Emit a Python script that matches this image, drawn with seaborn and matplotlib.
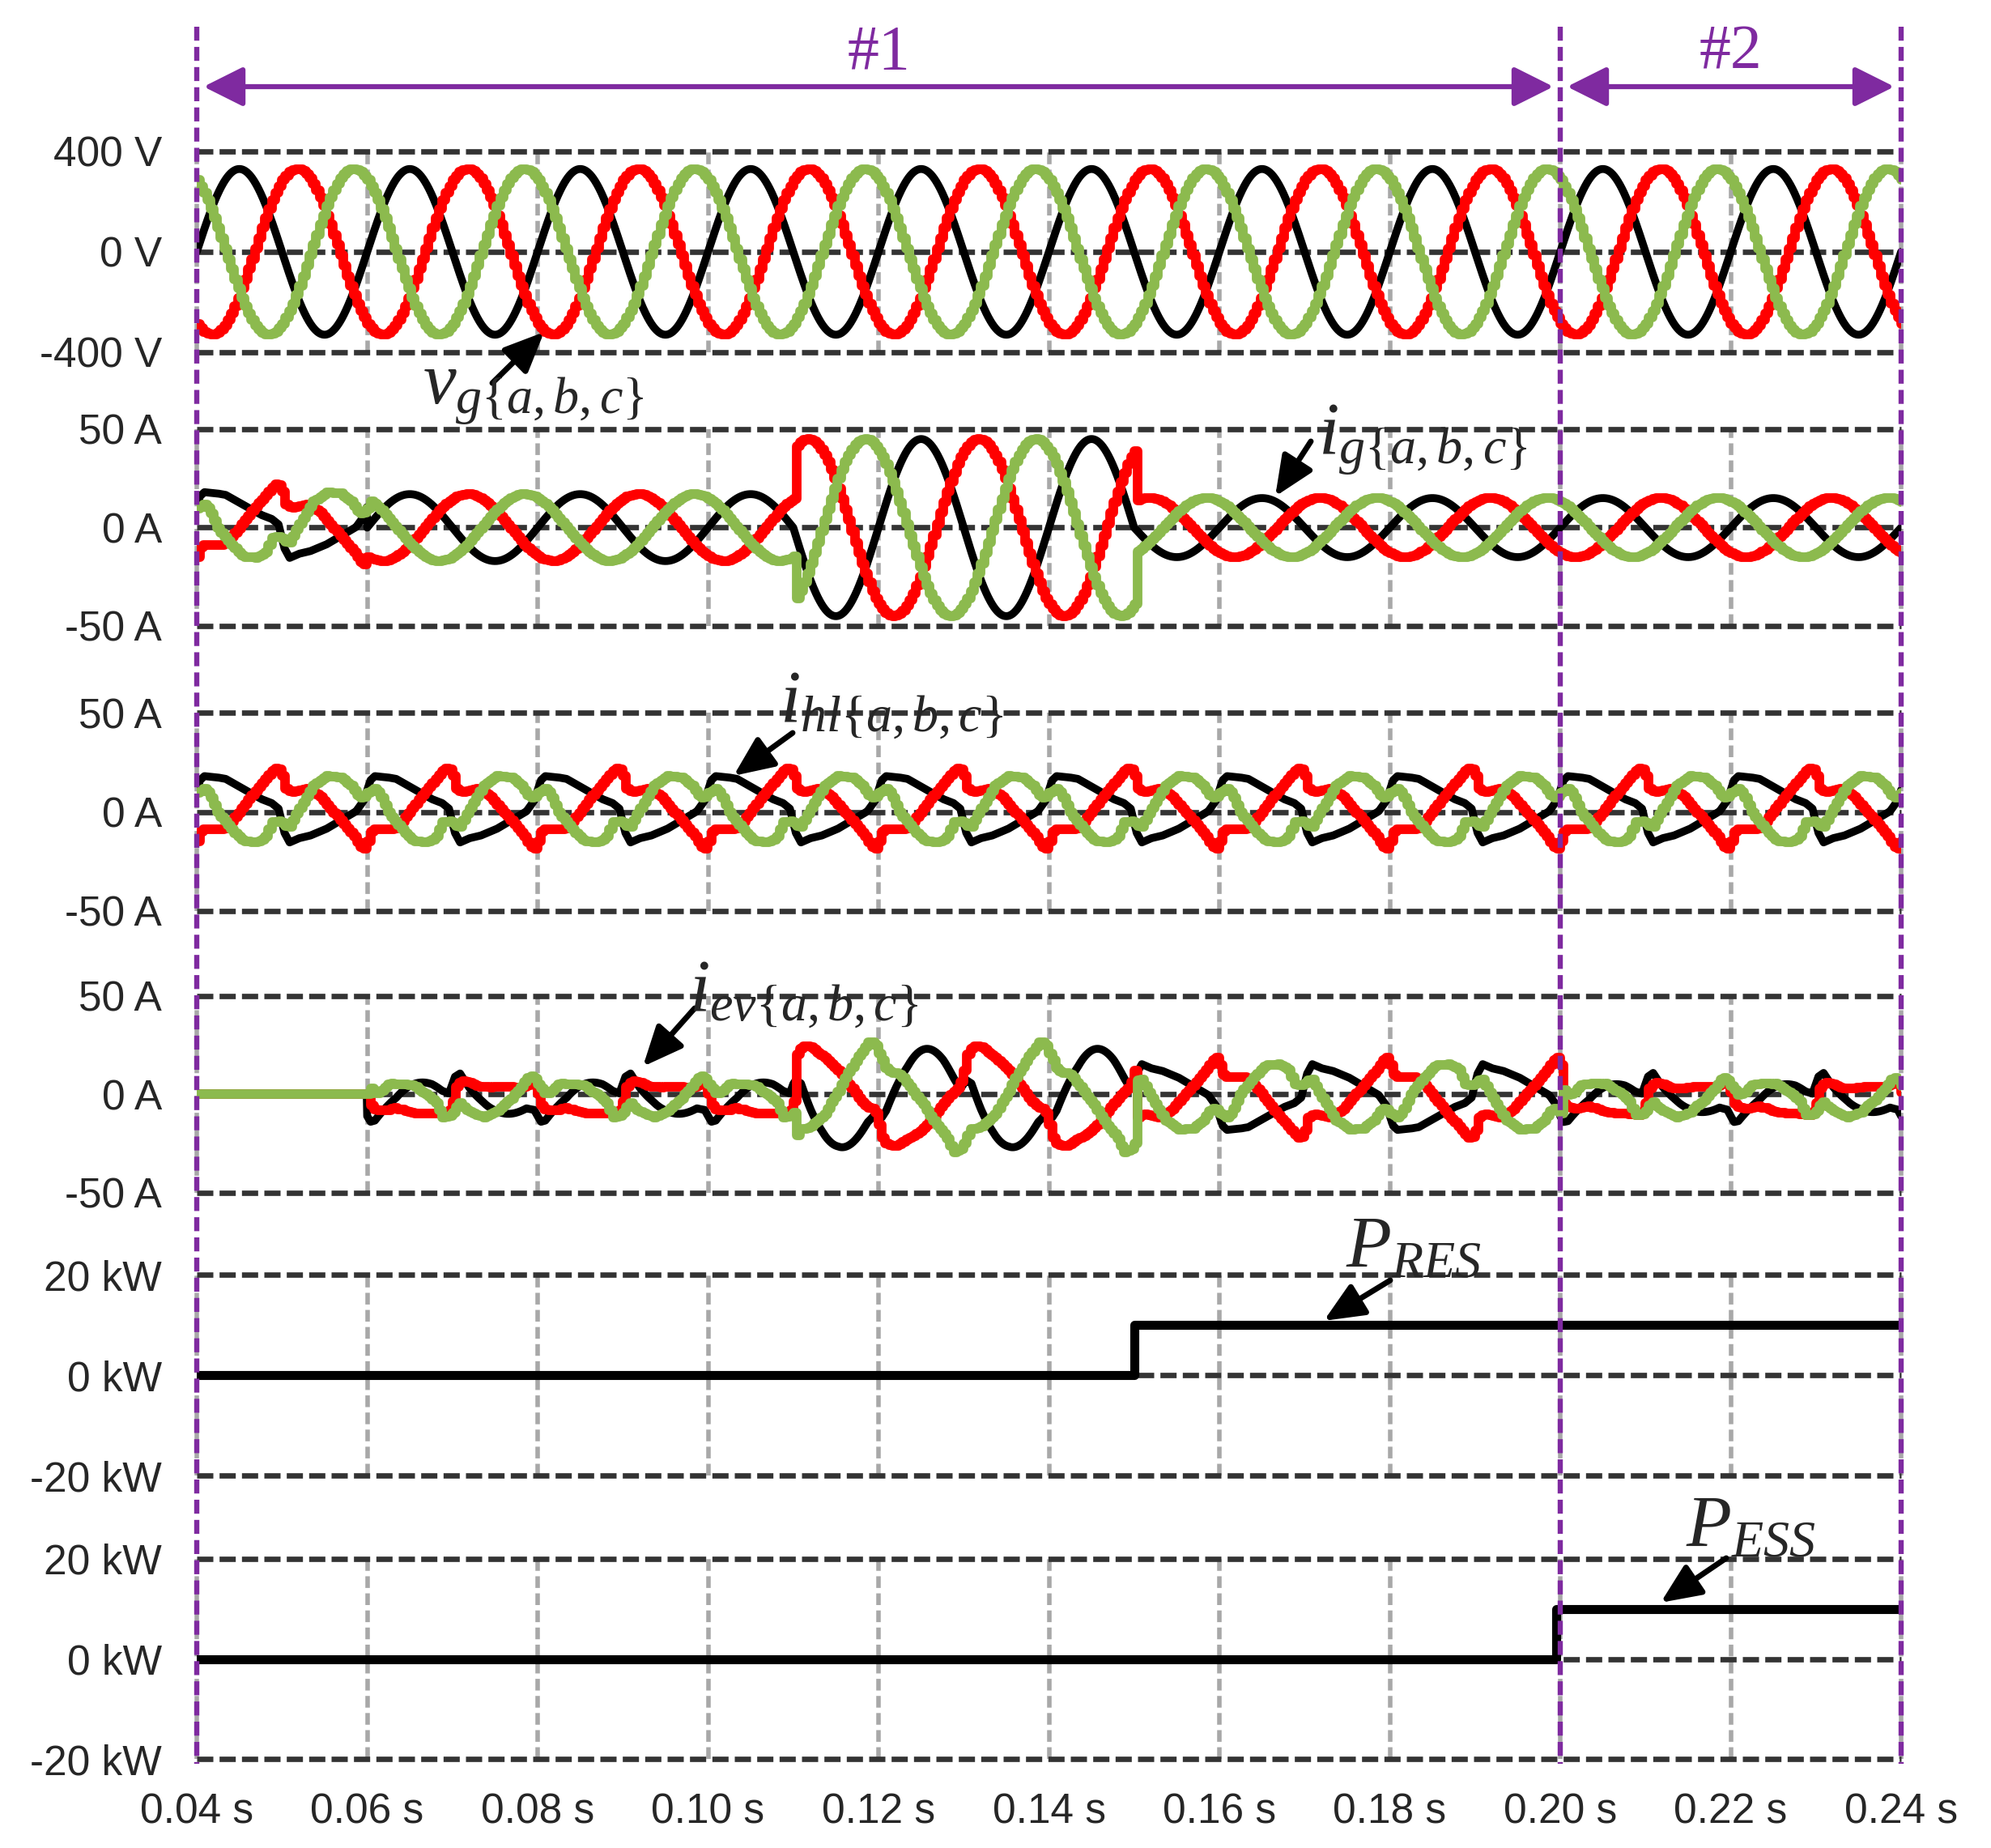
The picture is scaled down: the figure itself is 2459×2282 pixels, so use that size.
import numpy as np
import matplotlib
matplotlib.use('Agg')
import matplotlib.pyplot as plt
import matplotlib.transforms as mtransforms
from matplotlib.lines import Line2D
from matplotlib import font_manager
import seaborn as sns

# ---- values ----
FREQ_HZ = 50
PHASE_DEG = [0, -120, 120]                 # phase a (black), b (red), c (green)
PHASE_COLORS = ['#000000', '#ff0000', '#8cba4e']
V_PEAK = 330                               # grid voltage peak [V]

IG_EDGES = [0.06, 0.11, 0.15, 0.24]        # grid current is sinusoidal from 0.06 s
IG_PEAK = [17, 45, 15]                     # [A]

IEV_EDGES = [0.06, 0.11, 0.15, 0.20, 0.24] # EV charger current segments
IEV_FUND = [17, 35, 0, 16]                 # [A]

# household-load current, one 20 ms cycle (ms, A) per phase
HL_A_MS = [0.0, 0.4, 0.9, 2.5, 3.4, 5.6, 7.6, 8.8, 9.6, 10.3, 10.9, 12.0, 13.3, 15.2, 17.1, 18.7, 19.6, 20.0]
HL_A = [11, 16, 18, 17.3, 16.6, 11.2, 6.4, 4.4, 1.6, -10.6, -15.4, -13.3, -12, -8.6, -3.8, 0.3, 5.7, 11]
HL_B_MS = [0.0, 0.5, 3.1, 4.1, 6.3, 9.1, 9.8, 10.4, 11.0, 12.9, 14.2, 16.4, 18.3, 19.5, 20.0]
HL_B = [-15, -9, -8.6, -4.5, 7.8, 22, 21.4, 11.8, 9.8, 11.8, 8.4, -2.4, -12, -19.5, -15]
HL_C_MS = [0.0, 0.9, 1.5, 2.5, 4.1, 5.3, 6.9, 7.9, 8.8, 9.8, 10.7, 11.4, 13.6, 15.2, 16.8, 18.0, 19.0, 19.9, 20.0]
HL_C = [9.5, 11.8, 8, -1, -9.3, -14.7, -15.4, -13.3, -5.2, -4.5, -8.6, -2.4, 13.2, 18, 17.3, 13.2, 7, 7.8, 9.5]

P_RES_T = [0.04, 0.15, 0.24]
P_RES_KW = [0, 10, 10]
P_ESS_T = [0.04, 0.1995, 0.24]
P_ESS_KW = [0, 10, 10]

X_TICKS = [0.04, 0.06, 0.08, 0.10, 0.12, 0.14, 0.16, 0.18, 0.20, 0.22, 0.24]
X_LABELS = ['0.04 s', '0.06 s', '0.08 s', '0.10 s', '0.12 s', '0.14 s',
            '0.16 s', '0.18 s', '0.20 s', '0.22 s', '0.24 s']
V_TICKS, V_LABELS = [-400, 0, 400], ['-400 V', '0 V', '400 V']
A_TICKS, A_LABELS = [-50, 0, 50], ['-50 A', '0 A', '50 A']
P_TICKS, P_LABELS = [-20, 0, 20], ['-20 kW', '0 kW', '20 kW']
MODE_EDGES = [0.04, 0.20, 0.24]
MODE_NAMES = ['#1', '#2']

# ---- style ----
sns.set_theme(style='white')
names = {f.name for f in font_manager.fontManager.ttflist}
narrow = 'Liberation Sans Narrow' if 'Liberation Sans Narrow' in names else 'Liberation Sans'
plt.rcParams['font.family'] = [narrow, 'DejaVu Sans']
plt.rcParams['mathtext.fontset'] = 'custom'
plt.rcParams['mathtext.it'] = 'Liberation Serif:italic'
plt.rcParams['mathtext.rm'] = 'Liberation Serif'
PURPLE = '#7f2aa0'

W, H = 2459, 2282
fig = plt.figure(figsize=(W / 100, H / 100), dpi=100)

# ---- signals ----
t_fine = np.arange(0.04, 0.24 + 1e-9, 5e-5)
t_step = np.arange(0.04, 0.24 + 1e-9, 4e-4)
hl_ms = [HL_A_MS, HL_B_MS, HL_C_MS]
hl_val = [HL_A, HL_B, HL_C]


def seg_value(t, edges, vals):
    idx = np.clip(np.searchsorted(edges, t, side='right') - 1, 0, len(vals) - 1)
    return np.asarray(vals, float)[idx]


def i_hl(t, k):
    tau = ((t - 0.04) % 0.02) * 1000
    return np.interp(tau, hl_ms[k], hl_val[k])


def unit_sine(t, k):
    return np.sin(2 * np.pi * FREQ_HZ * t + np.deg2rad(PHASE_DEG[k]))


def v_g(t, k):
    return V_PEAK * unit_sine(t, k)


def i_g(t, k):
    return np.where(t < IG_EDGES[0], i_hl(t, k), seg_value(t, IG_EDGES, IG_PEAK) * unit_sine(t, k))


def i_ev(t, k):
    return np.where(t < IEV_EDGES[0], 0.0,
                    seg_value(t, IEV_EDGES, IEV_FUND) * unit_sine(t, k) - i_hl(t, k))


# panel extents in pixels (top, bottom)
rows = [(187, 435), (530, 773), (880, 1125), (1230, 1473), (1574, 1822), (1925, 2172)]
left_px, right_px = 243, 2348
axes = []
for top, bot in rows:
    ax = fig.add_axes([left_px / W, 1 - bot / H, (right_px - left_px) / W, (bot - top) / H])
    axes.append(ax)

panels = [(v_g, V_TICKS, V_LABELS), (i_g, A_TICKS, A_LABELS),
          (i_hl, A_TICKS, A_LABELS), (i_ev, A_TICKS, A_LABELS)]

for ax, (fn, ticks, labels) in zip(axes[:4], panels):
    for k in range(3):
        if k == 0:
            sns.lineplot(x=t_fine, y=fn(t_fine, k), ax=ax, color=PHASE_COLORS[k],
                         estimator=None, sort=False, zorder=3)
            ax.lines[-1].set_linewidth(7.0)
            ax.lines[-1].set_solid_joinstyle('round')
        else:
            sns.lineplot(x=t_step, y=fn(t_step, k), ax=ax, color=PHASE_COLORS[k],
                         estimator=None, sort=False, drawstyle='steps-post', zorder=3 + k)
            ax.lines[-1].set_linewidth(8.5)
    ax.set_ylim(ticks[0], ticks[-1])
    ax.set_yticks(ticks)
    ax.set_yticklabels(labels)

for ax, tt, pp in [(axes[4], P_RES_T, P_RES_KW), (axes[5], P_ESS_T, P_ESS_KW)]:
    sns.lineplot(x=tt, y=pp, ax=ax, color='black', estimator=None,
                 sort=False, drawstyle='steps-post', solid_capstyle='round', zorder=3)
    ax.lines[-1].set_linewidth(8.0)
    ax.set_ylim(P_TICKS[0], P_TICKS[-1])
    ax.set_yticks(P_TICKS)
    ax.set_yticklabels(P_LABELS)

for i, ax in enumerate(axes):
    ax.set_xlim(X_TICKS[0], X_TICKS[-1])
    ax.set_xticks(X_TICKS)
    ax.set_xlabel('')
    ax.set_ylabel('')
    for s in ax.spines.values():
        s.set_visible(False)
    for y in ax.get_yticks():
        ax.axhline(y, color='#333333', lw=4.8, ls=(0, (3.0, 1.15)), clip_on=False, zorder=2)
    for x in X_TICKS:
        ax.axvline(x, color='#a8a8a8', lw=4.0, ls=(0, (2.6, 1.2)), clip_on=False, zorder=1)
    ax.tick_params(axis='y', length=0, pad=31, labelsize=37)
    ax.tick_params(axis='x', length=0, pad=30, labelsize=37)
    if i < len(axes) - 1:
        ax.set_xticklabels([])
    else:
        ax.set_xticklabels(X_LABELS)

# mode boundaries and arrows
trans = mtransforms.blended_transform_factory(axes[-1].transData, fig.transFigure)
for x in MODE_EDGES:
    fig.add_artist(Line2D([x, x], [1 - 33 / H, 1 - 2178 / H], transform=trans, color=PURPLE,
                          lw=4.6, ls=(0, (2.7, 1.2)), zorder=10))
arrow_y = 1 - 107 / H
for (x0, x1), name in zip(zip(MODE_EDGES[:-1], MODE_EDGES[1:]), MODE_NAMES):
    axes[0].annotate('', xy=(x0 + 0.0008, arrow_y), xytext=(x1 - 0.0008, arrow_y),
                     xycoords=trans, textcoords=trans, annotation_clip=False,
                     arrowprops=dict(arrowstyle='<|-|>,head_length=0.5,head_width=0.25',
                                     color=PURPLE, lw=4.5, mutation_scale=60,
                                     shrinkA=0, shrinkB=0))
    axes[0].text((x0 + x1) / 2, 1 - 66 / H, name, transform=trans, ha='center', va='center',
                 color=PURPLE, fontsize=56, family='Liberation Serif')

# signal labels (text left/baseline, arrow tail, arrow head) in pixels from top-left
labels = [
    (r'$v_{g\{a,b,c\}}$', (522, 499), (608, 473), (672, 410)),
    (r'$i_{g\{a,b,c\}}$', (1628, 561), (1619, 545), (1575, 613)),
    (r'$i_{hl\{a,b,c\}}$', (963, 890), (979, 905), (906, 958)),
    (r'$i_{ev\{a,b,c\}}$', (851, 1247), (858, 1245), (794, 1317)),
    (r'$P_{RES}$', (1662, 1565), (1717, 1581), (1635, 1631)),
    (r'$P_{ESS}$', (2082, 1910), (2132, 1924), (2051, 1979)),
]
for txt, (tx, ty), (ax0, ay0), (hx, hy) in labels:
    fig.text(tx / W, 1 - ty / H, txt, ha='left', va='baseline', fontsize=66, zorder=12)
    fig.add_artist(matplotlib.patches.FancyArrowPatch(
        (ax0, H - ay0), (hx, H - hy), transform=None,
        arrowstyle='-|>,head_length=0.5,head_width=0.22',
        mutation_scale=60, lw=5, color='black', shrinkA=0, shrinkB=0, zorder=12))

fig.savefig('out.png', dpi=100, facecolor='white')
